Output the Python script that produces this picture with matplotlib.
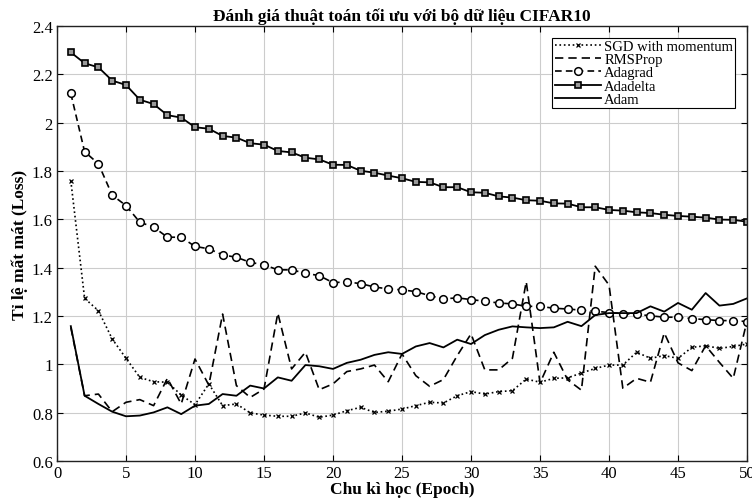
import numpy as np
import matplotlib
matplotlib.use("Agg")
import matplotlib.pyplot as plt
from matplotlib.ticker import FuncFormatter

epochs = list(range(1, 51))

sgd = [1.76, 1.273, 1.222, 1.105, 1.025, 0.946, 0.928, 0.926, 0.873, 0.833,
       0.919, 0.829, 0.836, 0.799, 0.790, 0.785, 0.785, 0.799, 0.781, 0.790,
       0.808, 0.822, 0.801, 0.806, 0.815, 0.829, 0.843, 0.840, 0.870, 0.887,
       0.877, 0.887, 0.891, 0.939, 0.926, 0.942, 0.944, 0.964, 0.983, 0.997,
       0.997, 1.050, 1.025, 1.036, 1.025, 1.070, 1.077, 1.066, 1.074, 1.084]

rmsprop = [1.153, 0.870, 0.877, 0.804, 0.843, 0.854, 0.829, 0.942, 0.836, 1.022,
           0.914, 1.208, 0.912, 0.863, 0.898, 1.212, 0.981, 1.050, 0.895, 0.919,
           0.970, 0.981, 0.997, 0.928, 1.043, 0.953, 0.909, 0.937, 1.036, 1.126,
           0.977, 0.977, 1.025, 1.342, 0.923, 1.050, 0.936, 0.893, 1.406, 1.328,
           0.901, 0.942, 0.926, 1.130, 1.006, 0.974, 1.077, 1.008, 0.942, 1.180]

adagrad = [2.121, 1.880, 1.830, 1.700, 1.657, 1.588, 1.568, 1.526, 1.526, 1.488,
           1.478, 1.453, 1.443, 1.422, 1.412, 1.391, 1.391, 1.377, 1.367, 1.338,
           1.341, 1.334, 1.320, 1.312, 1.308, 1.301, 1.284, 1.271, 1.275, 1.268,
           1.261, 1.254, 1.250, 1.240, 1.240, 1.232, 1.229, 1.224, 1.220, 1.214,
           1.210, 1.207, 1.201, 1.195, 1.195, 1.189, 1.185, 1.181, 1.181, 1.177]

adadelta = [2.291, 2.246, 2.229, 2.174, 2.156, 2.095, 2.077, 2.031, 2.021, 1.981,
            1.975, 1.945, 1.938, 1.915, 1.909, 1.883, 1.877, 1.855, 1.848, 1.826,
            1.825, 1.801, 1.793, 1.781, 1.770, 1.755, 1.753, 1.733, 1.733, 1.712,
            1.710, 1.695, 1.690, 1.679, 1.677, 1.666, 1.665, 1.650, 1.650, 1.639,
            1.636, 1.629, 1.626, 1.619, 1.614, 1.611, 1.607, 1.599, 1.598, 1.590]

adam = [1.158, 0.870, 0.836, 0.804, 0.785, 0.788, 0.801, 0.822, 0.794, 0.829,
        0.836, 0.877, 0.870, 0.912, 0.900, 0.946, 0.932, 0.997, 0.992, 0.981,
        1.006, 1.019, 1.039, 1.050, 1.043, 1.074, 1.088, 1.070, 1.102, 1.084,
        1.121, 1.143, 1.157, 1.153, 1.150, 1.153, 1.176, 1.158, 1.204, 1.212,
        1.212, 1.212, 1.240, 1.218, 1.254, 1.226, 1.295, 1.243, 1.250, 1.273]

labels = ["SGD with momentum", "RMSProp", "Adagrad", "Adadelta", "Adam"]
title = "Đánh giá thuật toán tối ưu với bộ dữ liệu CIFAR10"
xlabel = "Chu kì học (Epoch)"
ylabel = "Tỉ lệ mất mát (Loss)"
xticks = [0, 5, 10, 15, 20, 25, 30, 35, 40, 45, 50]
yticks = [0.6, 0.8, 1.0, 1.2, 1.4, 1.6, 1.8, 2.0, 2.2, 2.4]

plt.rcParams['font.family'] = ['Liberation Serif', 'DejaVu Serif']

fig = plt.figure(figsize=(7.52, 5.02), dpi=100)
ax = fig.add_axes([0.0758, 0.0797, 0.9176, 0.8665])

ax.plot(epochs, sgd, color='black', linestyle=':', linewidth=1.2,
        marker='x', markersize=3.5, markeredgewidth=0.9, label=labels[0])
ax.plot(epochs, rmsprop, color='black', linestyle=(0, (5, 3)), linewidth=1.2,
        label=labels[1])
ax.plot(epochs, adagrad, color='black', linestyle=(0, (4, 2.5)), linewidth=1.2,
        marker='o', markersize=5.5, markerfacecolor='white',
        markeredgewidth=1.1, label=labels[2])
ax.plot(epochs, adadelta, color='black', linestyle='-', linewidth=1.3,
        marker='s', markersize=4.2, markerfacecolor='#999999',
        markeredgewidth=1.2, label=labels[3])
ax.plot(epochs, adam, color='black', linestyle='-', linewidth=1.3,
        label=labels[4])

ax.set_xlim(0, 50)
ax.set_ylim(0.6, 2.4)
ax.set_xticks(xticks)
ax.set_yticks(yticks)
ax.yaxis.set_major_formatter(FuncFormatter(lambda v, p: f"{v:g}"))
ax.grid(True, color='#cccccc', linewidth=0.8)
ax.set_axisbelow(True)
ax.tick_params(direction='in', top=True, right=True, length=4,
               labelsize=12, width=0.8, pad=3)
for s in ax.spines.values():
    s.set_linewidth(1.0)
    s.set_color('#222222')

ax.set_title(title, fontsize=12.5, fontweight='bold', pad=4)
ax.set_xlabel(xlabel, fontsize=12.5, fontweight='bold', labelpad=0)
ax.set_ylabel(ylabel, fontsize=12.5, fontweight='bold', labelpad=3)

leg = ax.legend(loc='upper right', fontsize=10.5, frameon=True, fancybox=False,
                edgecolor='black', framealpha=1, borderpad=0.15,
                labelspacing=0.0, handlelength=3.2, handletextpad=0.2,
                borderaxespad=0.8)
leg.get_frame().set_linewidth(0.8)

fig.savefig("out.png", dpi=100)
